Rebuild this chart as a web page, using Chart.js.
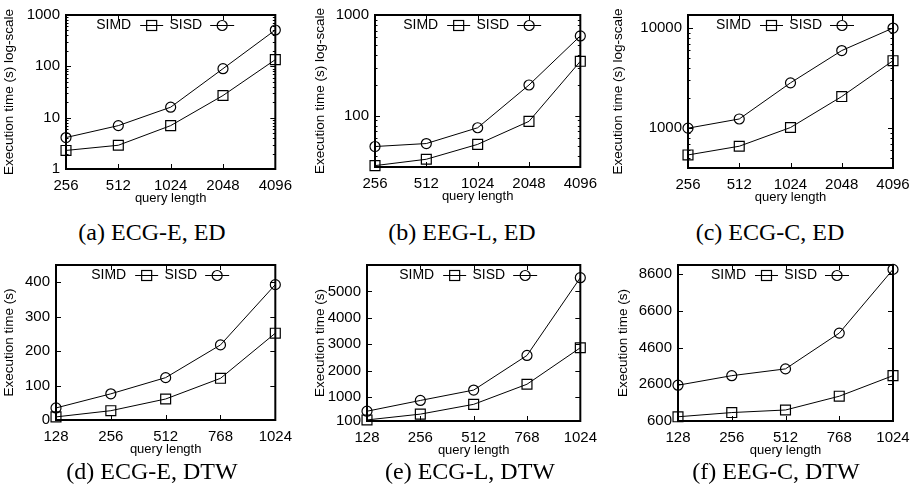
<!DOCTYPE html>
<html>
<head>
<meta charset="utf-8">
<script src="https://cdn.jsdelivr.net/npm/chart.js@4.4.0/dist/chart.umd.min.js"></script>
<style>
  html, body { margin: 0; padding: 0; background: #fff; }
  #fig { position: relative; width: 922px; height: 494px; overflow: hidden; }
  #fig canvas { position: absolute; }
  .caption {
    position: absolute;
    font-family: "Liberation Serif", "DejaVu Serif", serif;
    font-size: 24px;
    color: #000;
    white-space: nowrap;
    transform: translate(-50%, -50%);
  }
</style>
</head>
<body>
<div id="fig">
  <canvas id="chartA"></canvas>
  <canvas id="chartB"></canvas>
  <canvas id="chartC"></canvas>
  <canvas id="chartD"></canvas>
  <canvas id="chartE"></canvas>
  <canvas id="chartF"></canvas>
  <div class="caption" style="left:152px;top:232px">(a) ECG-E, ED</div>
  <div class="caption" style="left:462px;top:232px">(b) EEG-L, ED</div>
  <div class="caption" style="left:770px;top:232px">(c) ECG-C, ED</div>
  <div class="caption" style="left:152px;top:471px">(d) ECG-E, DTW</div>
  <div class="caption" style="left:470px;top:471px">(e) ECG-L, DTW</div>
  <div class="caption" style="left:776px;top:471px">(f) EEG-C, DTW</div>
</div>
<script>
// query lengths
const lengthsED = ['256', '512', '1024', '2048', '4096'];
const lengthsDTW = ['128', '256', '512', '768', '1024'];

// execution times (s), Euclidean distance
const ecgE_ED_simd = [2.3, 2.9, 7.0, 27, 135];
const ecgE_ED_sisd = [4.1, 7.0, 16, 90, 510];
const eegL_ED_simd = [32, 37, 52, 88, 347];
const eegL_ED_sisd = [49.5, 53, 76, 202, 620];
const ecgC_ED_simd = [540, 660, 1015, 2070, 4720];
const ecgC_ED_sisd = [1000, 1235, 2835, 5960, 10000];

// execution times (s), DTW
const ecgE_DTW_simd = [9, 27, 61, 121, 252];
const ecgE_DTW_sisd = [35, 76, 123, 218, 393];
const ecgL_DTW_simd = [140, 360, 730, 1490, 2870];
const ecgL_DTW_sisd = [470, 877, 1270, 2580, 5520];
const eegC_DTW_simd = [830, 1060, 1200, 1950, 3070];
const eegC_DTW_sisd = [2550, 3070, 3440, 5390, 8860];

// y tick labels
const ticksA = [1, 10, 100, 1000];
const ticksB = [100, 1000];
const ticksC = [1000, 10000];
const ticksD = [0, 100, 200, 300, 400];
const ticksE = [100, 1000, 2000, 3000, 4000, 5000];
const ticksF = [600, 2600, 4600, 6600, 8600];

const SANS = '"Liberation Sans", Arial, sans-serif';
const X_AXIS_H = 36;

// plot box, inward ticks and the gnuplot-style key
const frame = {
  id: 'frame',
  beforeDatasetsDraw(chart) {
    const { ctx, chartArea: a, scales: { x, y } } = chart;
    ctx.save();
    ctx.strokeStyle = '#000';
    ctx.lineWidth = 1;
    ctx.beginPath();
    y.ticks.forEach(t => {
      const py = Math.round(y.getPixelForValue(t.value)) + 0.5;
      ctx.moveTo(a.left, py); ctx.lineTo(a.left + 5, py);
      ctx.moveTo(a.right, py); ctx.lineTo(a.right - 5, py);
    });
    x.ticks.forEach((t, i) => {
      const px = Math.round(x.getPixelForTick(i)) + 0.5;
      ctx.moveTo(px, a.bottom); ctx.lineTo(px, a.bottom - 5);
      ctx.moveTo(px, a.top); ctx.lineTo(px, a.top + 5);
    });
    if (y.type === 'logarithmic') {
      const lo = Math.floor(Math.log10(y.min));
      const hi = Math.ceil(Math.log10(y.max));
      for (let e = lo; e <= hi; e++) {
        for (let m = 2; m <= 9; m++) {
          const v = m * Math.pow(10, e);
          if (v <= y.min || v >= y.max) continue;
          const py = Math.round(y.getPixelForValue(v)) + 0.5;
          ctx.moveTo(a.left, py); ctx.lineTo(a.left + 2.5, py);
          ctx.moveTo(a.right, py); ctx.lineTo(a.right - 2.5, py);
        }
      }
    }
    ctx.stroke();
    ctx.lineWidth = 2;
    ctx.strokeRect(a.left, a.top, a.right - a.left, a.bottom - a.top);
    ctx.restore();
  },
  afterDatasetsDraw(chart) {
    const { ctx, chartArea: a } = chart;
    const ds = chart.data.datasets;
    const left = (a.left + a.right) / 2 - 5 - 68.5;
    const ky = a.top + 10.5;
    ctx.save();
    ctx.fillStyle = '#000';
    ctx.strokeStyle = '#000';
    ctx.font = '14px ' + SANS;
    ctx.textAlign = 'right';
    ctx.textBaseline = 'middle';
    ctx.fillText(ds[0].label, left + 34, ky);
    ctx.fillText(ds[1].label, left + 105, ky);
    ctx.lineWidth = 1;
    ctx.beginPath();
    ctx.moveTo(left + 43, ky); ctx.lineTo(left + 66, ky);
    ctx.moveTo(left + 113, ky); ctx.lineTo(left + 137, ky);
    ctx.stroke();
    ctx.lineWidth = 1.2;
    ctx.strokeRect(left + 49.5, ky - 5, 10, 10);
    ctx.beginPath();
    ctx.arc(left + 125, ky, 5, 0, Math.PI * 2);
    ctx.stroke();
    ctx.restore();
  }
};

function series(label, data, style, radius) {
  return {
    label, data,
    borderColor: '#000', borderWidth: 1, tension: 0, fill: false, clip: false,
    pointStyle: style, pointRadius: radius,
    pointBorderColor: '#000', pointBackgroundColor: 'rgba(0,0,0,0)', pointBorderWidth: 1.2
  };
}

function buildChart(p) {
  const canvas = document.getElementById(p.id);
  canvas.width = p.cw;
  canvas.height = p.ch;
  canvas.style.left = p.cl + 'px';
  canvas.style.top = p.ct + 'px';
  const padLeft = p.titleX - 6.75 - p.cl;
  return new Chart(canvas, {
    type: 'line',
    data: {
      labels: p.labels,
      datasets: [series('SIMD', p.simd, 'rect', 7), series('SISD', p.sisd, 'circle', 5)]
    },
    options: {
      responsive: false,
      animation: false,
      events: [],
      layout: {
        autoPadding: false,
        padding: {
          left: padLeft,
          top: p.T - p.ct,
          right: p.cl + p.cw - p.R,
          bottom: p.ct + p.ch - p.B - X_AXIS_H
        }
      },
      plugins: { legend: { display: false }, tooltip: { enabled: false } },
      scales: {
        x: {
          type: 'category',
          grid: { display: false, drawTicks: false },
          border: { display: false },
          ticks: { color: '#000', font: { family: SANS, size: 15 }, padding: 8, maxRotation: 0, autoSkip: false },
          title: { display: true, text: 'query length', color: '#000', font: { family: SANS, size: 13, lineHeight: 1 }, padding: 0 },
          afterFit: s => { s.height = X_AXIS_H; }
        },
        y: {
          type: p.yType,
          min: p.yMin,
          max: p.yMax,
          grid: { display: false, drawTicks: false },
          border: { display: false },
          ticks: { color: '#000', font: { family: SANS, size: 15 }, padding: 6, autoSkip: false, callback: v => String(v) },
          title: { display: true, text: p.yTitle, color: '#000', font: { family: SANS, size: 13.5, lineHeight: 1 }, padding: 0 },
          afterBuildTicks: s => { s.ticks = p.yTicks.map(v => ({ value: v })); },
          afterFit: s => { s.width = p.L - p.cl - padLeft; }
        }
      }
    },
    plugins: [frame]
  });
}

const LOG_TITLE = 'Execution time (s) log-scale';
const LIN_TITLE = 'Execution time (s)';

const panels = [
  { id: 'chartA', cl: 0, ct: 0, cw: 300, ch: 210, L: 66, R: 278, T: 9, B: 169, titleX: 9,
    labels: lengthsED, simd: ecgE_ED_simd, sisd: ecgE_ED_sisd,
    yType: 'logarithmic', yMin: 1, yMax: 1000, yTicks: ticksA, yTitle: LOG_TITLE },
  { id: 'chartB', cl: 305, ct: 0, cw: 300, ch: 210, L: 375, R: 589, T: 7, B: 167, titleX: 320,
    labels: lengthsED, simd: eegL_ED_simd, sisd: eegL_ED_sisd,
    yType: 'logarithmic', yMin: 31, yMax: 1000, yTicks: ticksB, yTitle: LOG_TITLE },
  { id: 'chartC', cl: 608, ct: 0, cw: 314, ch: 210, L: 688, R: 893, T: 7, B: 168, titleX: 618,
    labels: lengthsED, simd: ecgC_ED_simd, sisd: ecgC_ED_sisd,
    yType: 'logarithmic', yMin: 400, yMax: 13500, yTicks: ticksC, yTitle: LOG_TITLE },
  { id: 'chartD', cl: 0, ct: 250, cw: 300, ch: 210, L: 56, R: 279, T: 260, B: 420, titleX: 9,
    labels: lengthsDTW, simd: ecgE_DTW_simd, sisd: ecgE_DTW_sisd,
    yType: 'linear', yMin: 0, yMax: 450, yTicks: ticksD, yTitle: LIN_TITLE },
  { id: 'chartE', cl: 305, ct: 250, cw: 300, ch: 210, L: 367, R: 589, T: 260, B: 421, titleX: 320,
    labels: lengthsDTW, simd: ecgL_DTW_simd, sisd: ecgL_DTW_sisd,
    yType: 'linear', yMin: 100, yMax: 6000, yTicks: ticksE, yTitle: LIN_TITLE },
  { id: 'chartF', cl: 608, ct: 250, cw: 314, ch: 210, L: 678, R: 893, T: 259, B: 421, titleX: 623,
    labels: lengthsDTW, simd: eegC_DTW_simd, sisd: eegC_DTW_sisd,
    yType: 'linear', yMin: 600, yMax: 9100, yTicks: ticksF, yTitle: LIN_TITLE }
];

panels.forEach(buildChart);
</script>
</body>
</html>
